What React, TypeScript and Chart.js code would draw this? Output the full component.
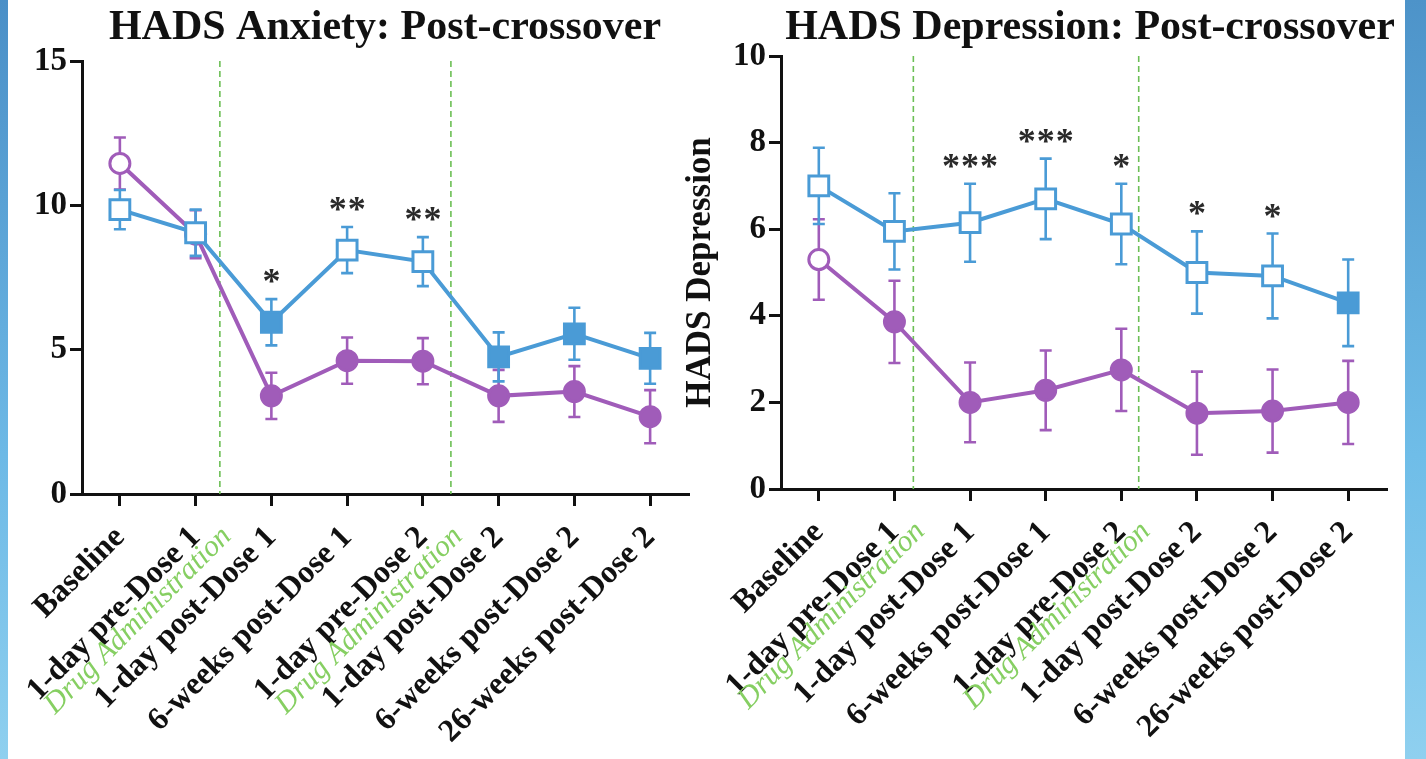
import React, { useEffect, useRef } from "react";
import { Chart, registerables } from "chart.js";

Chart.register(...registerables);

// ---------- data ----------
const categories = [
  "Baseline",
  "1-day pre-Dose 1",
  "1-day post-Dose 1",
  "6-weeks post-Dose 1",
  "1-day pre-Dose 2",
  "1-day post-Dose 2",
  "6-weeks post-Dose 2",
  "26-weeks post-Dose 2",
];

const anxietyBlue = [9.85, 9.05, 5.95, 8.45, 8.05, 4.75, 5.55, 4.7];
const anxietyBlueSem = [0.68, 0.8, 0.8, 0.8, 0.85, 0.85, 0.9, 0.88];
const anxietyBlueOpen = [true, true, false, true, true, false, false, false];
const anxietyPurple = [11.45, 9.0, 3.4, 4.62, 4.6, 3.4, 3.55, 2.68];
const anxietyPurpleSem = [0.9, 0.83, 0.8, 0.8, 0.8, 0.9, 0.88, 0.92];
const anxietyPurpleOpen = [true, false, false, false, false, false, false, false];
const anxietyStars = ["", "", "*", "**", "**", "", "", ""];
const anxietyTicks = [0, 5, 10, 15];

const depressionBlue = [7.0, 5.95, 6.15, 6.7, 6.12, 5.0, 4.92, 4.3];
const depressionBlueSem = [0.88, 0.88, 0.9, 0.93, 0.93, 0.95, 0.98, 1.0];
const depressionBlueOpen = [true, true, true, true, true, true, true, false];
const depressionPurple = [5.3, 3.86, 2.0, 2.28, 2.75, 1.75, 1.8, 2.0];
const depressionPurpleSem = [0.93, 0.95, 0.92, 0.92, 0.95, 0.96, 0.96, 0.96];
const depressionPurpleOpen = [true, false, false, false, false, false, false, false];
const depressionStars = ["", "", "***", "***", "*", "*", "*", ""];
const depressionTicks = [0, 2, 4, 6, 8, 10];

// positions (in category units) of the drug administration markers
const anxietyDoses = [1.32, 4.37];
const depressionDoses = [1.25, 4.23];
const doseLabel = "Drug Administration";

// ---------- styles ----------
const SERIF = '"Liberation Serif", "Times New Roman", serif';
const BLUE = "#4a9bd6";
const PURPLE = "#a05cb9";
const GREEN_LINE = "#6cbf55";
const GREEN_TEXT = "#86cf62";

type Spec = {
  title: string;
  titleX: number;
  yTitle: string;
  blue: number[];
  blueSem: number[];
  blueOpen: boolean[];
  purple: number[];
  purpleSem: number[];
  purpleOpen: boolean[];
  stars: string[];
  ticks: number[];
  doses: number[];
  yWidth: number;
  padRight: number;
  padTop: number;
  xHeight: number;
};

function makeChart(canvas: HTMLCanvasElement, s: Spec) {
  const sems = [s.blueSem, s.purpleSem];
  const overlay = {
    id: "overlay",
    beforeDatasetsDraw(chart: any) {
      const { ctx, chartArea } = chart;
      const xs = chart.scales.x;
      ctx.save();
      ctx.strokeStyle = GREEN_LINE;
      ctx.lineWidth = 1.6;
      ctx.setLineDash([6, 4]);
      s.doses.forEach((p) => {
        const x = xs.getPixelForValue(p);
        ctx.beginPath();
        ctx.moveTo(x, chartArea.top);
        ctx.lineTo(x, chartArea.bottom);
        ctx.stroke();
      });
      ctx.restore();
    },
    beforeDatasetDraw(chart: any, args: any) {
      const { ctx } = chart;
      const ys = chart.scales.y;
      const ds = chart.data.datasets[args.index];
      const sem = sems[args.index];
      ctx.save();
      ctx.strokeStyle = ds.borderColor;
      ctx.lineWidth = 2.6;
      args.meta.data.forEach((pt: any, i: number) => {
        const v = ds.data[i];
        const top = ys.getPixelForValue(v + sem[i]);
        const bot = ys.getPixelForValue(v - sem[i]);
        ctx.beginPath();
        ctx.moveTo(pt.x, top);
        ctx.lineTo(pt.x, bot);
        ctx.moveTo(pt.x - 6, top);
        ctx.lineTo(pt.x + 6, top);
        ctx.moveTo(pt.x - 6, bot);
        ctx.lineTo(pt.x + 6, bot);
        ctx.stroke();
      });
      ctx.restore();
    },
    afterDatasetsDraw(chart: any) {
      const { ctx } = chart;
      const xs = chart.scales.x;
      const ys = chart.scales.y;
      ctx.save();
      ctx.fillStyle = "#2a2a2a";
      ctx.font = `bold 36px ${SERIF}`;
      ctx.textAlign = "center";
      ctx.textBaseline = "alphabetic";
      s.stars.forEach((st, i) => {
        if (!st) return;
        const hi = Math.max(s.blue[i] + s.blueSem[i], s.purple[i] + s.purpleSem[i]);
        const y = ys.getPixelForValue(hi);
        const x = xs.getPixelForValue(i);
        const n = st.length;
        for (let k = 0; k < n; k++) {
          ctx.fillText("*", x + (k - (n - 1) / 2) * 19, y - 6);
        }
      });
      ctx.restore();
    },
    afterDraw(chart: any) {
      const { ctx } = chart;
      const xs = chart.scales.x;
      ctx.save();
      ctx.fillStyle = "#111";
      ctx.font = `bold 42px ${SERIF}`;
      ctx.textAlign = "center";
      ctx.textBaseline = "middle";
      ctx.fillText(s.title, s.titleX, 28);
      ctx.fillStyle = GREEN_TEXT;
      ctx.font = `italic 30px ${SERIF}`;
      ctx.textAlign = "right";
      s.doses.forEach((p) => {
        const x = xs.getPixelForValue(p);
        ctx.save();
        ctx.translate(x + 7, xs.top + 38);
        ctx.rotate(-Math.PI / 4);
        ctx.fillText(doseLabel, 0, 0);
        ctx.restore();
      });
      ctx.restore();
    },
  };

  const yMax = s.ticks[s.ticks.length - 1];
  return new Chart(canvas, {
    type: "line",
    data: {
      labels: categories,
      datasets: [
        {
          data: s.blue,
          borderColor: BLUE,
          borderWidth: 4,
          pointStyle: "rect",
          pointRadius: 14,
          pointBorderWidth: 3,
          pointBorderColor: BLUE,
          pointBackgroundColor: s.blueOpen.map((o) => (o ? "#ffffff" : BLUE)),
          tension: 0,
          fill: false,
        },
        {
          data: s.purple,
          borderColor: PURPLE,
          borderWidth: 4,
          pointStyle: "circle",
          pointRadius: 10,
          pointBorderWidth: 3,
          pointBorderColor: PURPLE,
          pointBackgroundColor: s.purpleOpen.map((o) => (o ? "#ffffff" : PURPLE)),
          tension: 0,
          fill: false,
        },
      ] as any,
    },
    options: {
      animation: false,
      responsive: true,
      maintainAspectRatio: false,
      events: [],
      layout: { padding: { top: s.padTop, right: s.padRight, left: 0, bottom: 0 } },
      plugins: { legend: { display: false }, tooltip: { enabled: false }, title: { display: false } },
      scales: {
        x: {
          type: "category",
          offset: true,
          border: { display: true, color: "#111", width: 3 },
          grid: { display: true, drawOnChartArea: false, drawTicks: true, tickLength: 12, color: "#111", lineWidth: 3 },
          ticks: {
            autoSkip: false,
            maxRotation: 45,
            minRotation: 45,
            color: "#111",
            padding: 13,
            font: { family: SERIF, weight: "bold", size: 32 },
          },
          afterFit: (sc: any) => {
            sc.height = s.xHeight;
          },
        },
        y: {
          min: 0,
          max: yMax,
          border: { display: true, color: "#111", width: 3 },
          grid: { display: true, drawOnChartArea: false, drawTicks: true, tickLength: 12, color: "#111", lineWidth: 3 },
          afterBuildTicks: (sc: any) => {
            sc.ticks = s.ticks.map((v) => ({ value: v }));
          },
          ticks: {
            color: "#111",
            padding: 3,
            font: { family: SERIF, weight: "bold", size: 33 },
          },
          title: {
            display: !!s.yTitle,
            text: s.yTitle,
            color: "#111",
            padding: { top: 0, bottom: 0 },
            font: { family: SERIF, weight: "bold", size: 35 },
          },
          afterFit: (sc: any) => {
            sc.width = s.yWidth;
          },
        },
      },
    } as any,
    plugins: [overlay],
  });
}

function Panel(props: { left: number; width: number; spec: Spec }) {
  const ref = useRef<HTMLCanvasElement>(null);
  useEffect(() => {
    const c = makeChart(ref.current as HTMLCanvasElement, props.spec);
    return () => c.destroy();
  }, []);
  return (
    <div style={{ position: "absolute", left: props.left, top: 0, width: props.width, height: 759 }}>
      <canvas ref={ref} />
    </div>
  );
}

const anxietySpec: Spec = {
  title: "HADS Anxiety: Post-crossover",
  titleX: 385,
  yTitle: "",
  blue: anxietyBlue,
  blueSem: anxietyBlueSem,
  blueOpen: anxietyBlueOpen,
  purple: anxietyPurple,
  purpleSem: anxietyPurpleSem,
  purpleOpen: anxietyPurpleOpen,
  stars: anxietyStars,
  ticks: anxietyTicks,
  doses: anxietyDoses,
  yWidth: 82,
  padRight: 15,
  padTop: 61,
  xHeight: 265,
};

const depressionSpec: Spec = {
  title: "HADS Depression: Post-crossover",
  titleX: 410,
  yTitle: "HADS Depression",
  blue: depressionBlue,
  blueSem: depressionBlueSem,
  blueOpen: depressionBlueOpen,
  purple: depressionPurple,
  purpleSem: depressionPurpleSem,
  purpleOpen: depressionPurpleOpen,
  stars: depressionStars,
  ticks: depressionTicks,
  doses: depressionDoses,
  yWidth: 101,
  padRight: 19,
  padTop: 56,
  xHeight: 270,
};

export default function App() {
  return (
    <div
      style={{
        position: "fixed",
        left: 0,
        top: 0,
        width: 1426,
        height: 759,
        background: "#ffffff",
        overflow: "hidden",
      }}
    >
      <Panel left={0} width={705} spec={anxietySpec} />
      <Panel left={680} width={725} spec={depressionSpec} />
      <div
        style={{
          position: "absolute",
          left: 0,
          top: 0,
          width: 8,
          height: 759,
          background: "linear-gradient(to bottom, #4a8fc7, #6db9e6 60%, #8fd0ef)",
        }}
      />
      <div
        style={{
          position: "absolute",
          left: 1405,
          top: 0,
          width: 21,
          height: 759,
          background: "linear-gradient(to bottom, #4d93c9, #6fbde8 60%, #8fd0ef)",
        }}
      />
    </div>
  );
}
